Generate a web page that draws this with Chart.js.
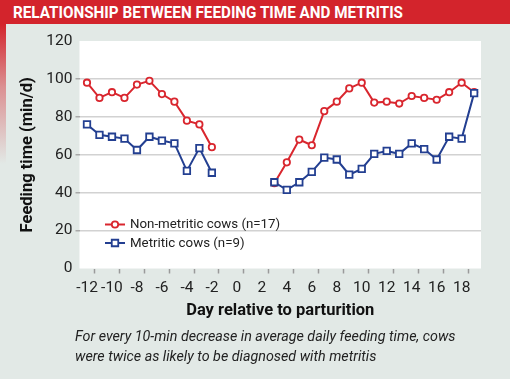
<!DOCTYPE html>
<html>
<head>
<meta charset="utf-8">
<script src="https://cdn.jsdelivr.net/npm/chart.js@4/dist/chart.umd.min.js"></script>
<style>
  html, body { margin: 0; padding: 0; }
  body { width: 510px; height: 379px; background: #e2e9e6; position: relative; overflow: hidden; }
  #bar { position: absolute; left: 0; top: 0; width: 510px; height: 24px; background: #d3242c; }
  #bar span { position: absolute; left: 13px; top: 0; line-height: 25px; color: #fff; font-family: Roboto, sans-serif; font-weight: bold; font-size: 17px; white-space: nowrap; transform-origin: 0 50%; }
  #stripe { position: absolute; left: 0; top: 24px; width: 6px; height: 140px; background: linear-gradient(to bottom, #d3242c 0%, rgba(211,36,44,0.45) 45%, rgba(211,36,44,0) 100%); }
  #note { position: absolute; left: 75px; top: 327px; font-family: Roboto, sans-serif; font-style: italic; font-size: 14.3px; line-height: 19.5px; color: #222; white-space: nowrap; }
  #c { position: absolute; left: 0; top: 0; }
</style>
</head>
<body>
<div id="bar"><span id="barText">RELATIONSHIP BETWEEN FEEDING TIME AND METRITIS</span></div>
<div id="stripe"></div>
<canvas id="c" width="510" height="379"></canvas>
<div id="note">For every 10-min decrease in average daily feeding time, cows<br>were twice as likely to be diagnosed with metritis</div>
<script>
// Day relative to parturition (-12 .. 19)
const days = [-12,-11,-10,-9,-8,-7,-6,-5,-4,-3,-2,-1,0,1,2,3,4,5,6,7,8,9,10,11,12,13,14,15,16,17,18,19];
// Feeding time (min/d)
const nonMetritic = [98,90,93,90,97,99,92,88,78,76,64, null,null,null,null,
  45,56,68,65,83,88,95,98,87.5,88,87,91,90,89,93,98,93];
const metritic = [76,70.5,69.5,68.5,62.5,69.5,67.5,66,51.5,63.5,50.5, null,null,null,null,
  45.5,41.5,45.5,51,58.5,57.5,49.5,52.5,60.5,62,60.5,66,63,57.5,69.5,68.5,92.5];
const xTicks = [-12,-10,-8,-6,-4,-2,0,2,4,6,8,10,12,14,16,18];
const yTicks = [0,20,40,60,80,100,120];
const seriesLabels = ['Non-metritic cows (n=17)', 'Metritic cows (n=9)'];

const RED = '#d9262e', BLUE = '#233f91';

// condense the header text to the reference width
(function () {
  const t = document.getElementById('barText');
  const w = t.getBoundingClientRect().width;
  if (w > 0) t.style.transform = 'scaleX(' + (390 / w) + ')';
})();

const whiteArea = {
  id: 'whiteArea',
  beforeDraw(chart) {
    const {ctx, chartArea: a} = chart;
    ctx.save(); ctx.fillStyle = '#fff';
    ctx.fillRect(a.left, a.top, a.right - a.left, a.bottom - a.top);
    ctx.restore();
  },
  afterDraw(chart) {
    const {ctx, chartArea: a} = chart;
    const xs = chart.scales.x;
    ctx.save(); ctx.strokeStyle = '#9a9a9a'; ctx.lineWidth = 1.5;
    xTicks.forEach(v => {
      const px = Math.round(xs.getPixelForValue(v + 0.53)) + 0.5;
      ctx.beginPath(); ctx.moveTo(px, a.bottom + 0.5); ctx.lineTo(px, a.bottom + 5); ctx.stroke();
    });
    ctx.restore();
  }
};

const legendPlugin = {
  id: 'lineLegend',
  afterDatasetsDraw(chart) {
    const {ctx, chartArea: a} = chart;
    ctx.save();
    chart.data.datasets.forEach((ds, i) => {
      const cx = a.left + 35.5, cy = a.bottom - 44 + i * 18.5;
      ctx.strokeStyle = ds.borderColor; ctx.lineWidth = 2;
      ctx.beginPath(); ctx.moveTo(cx - 10, cy); ctx.lineTo(cx + 10, cy); ctx.stroke();
      ctx.fillStyle = '#fff'; ctx.lineWidth = 1.8;
      ctx.beginPath();
      if (ds.pointStyle === 'rect') {
        const s = ds.pointRadius * Math.SQRT1_2;
        ctx.rect(cx - s, cy - s, 2 * s, 2 * s);
      } else {
        ctx.arc(cx, cy, ds.pointRadius, 0, Math.PI * 2);
      }
      ctx.fill(); ctx.stroke();
      ctx.fillStyle = '#222'; ctx.font = '13.3px Roboto'; ctx.textBaseline = 'middle'; ctx.textAlign = 'left';
      ctx.fillText(ds.label, cx + 15, cy + 0.5);
    });
    ctx.restore();
  }
};

new Chart(document.getElementById('c'), {
  type: 'line',
  data: {
    labels: days,
    datasets: [
      { label: seriesLabels[0], data: days.map((d, i) => ({x: d, y: nonMetritic[i]})),
        borderColor: RED, backgroundColor: '#fff', borderWidth: 2, pointStyle: 'circle',
        pointRadius: 3.2, pointBorderWidth: 1.8, pointBackgroundColor: '#fff', pointBorderColor: RED,
        spanGaps: false, tension: 0, order: 1 },
      { label: seriesLabels[1], data: days.map((d, i) => ({x: d, y: metritic[i]})),
        borderColor: BLUE, backgroundColor: '#fff', borderWidth: 2, pointStyle: 'rect',
        pointRadius: 4.6, pointBorderWidth: 1.8, pointBackgroundColor: '#fff', pointBorderColor: BLUE,
        spanGaps: false, tension: 0, order: 0 }
    ]
  },
  options: {
    responsive: false, animation: false, devicePixelRatio: 1,
    layout: { padding: { left: 0, top: 41, right: 29, bottom: 50.5 } },
    plugins: { legend: { display: false }, tooltip: { enabled: false } },
    scales: {
      x: {
        type: 'linear', min: -12.6, max: 19.55,
        afterBuildTicks: s => { s.ticks = xTicks.map(v => ({value: v})); },
        afterFit: s => { s.height = 60; },
        grid: { display: false, drawTicks: false },
        border: { display: false },
        ticks: { color: '#222', font: { family: 'Roboto', size: 15.5 }, padding: 10.5, maxRotation: 0, autoSkip: false },
        title: { display: true, text: 'Day relative to parturition', color: '#111',
          font: { family: 'Roboto', weight: 'bold', size: 16.5 }, padding: { top: 0, bottom: 7.6 } }
      },
      y: {
        min: 0, max: 120,
        afterBuildTicks: s => { s.ticks = yTicks.map(v => ({value: v})); },
        afterFit: s => { s.width = 79.5; },
        grid: {
          color: c => (c.tick && (c.tick.value === 0 || c.tick.value === 120)) ? 'rgba(0,0,0,0)' : '#d2d2d2',
          tickColor: c => (c.tick && (c.tick.value === 0 || c.tick.value === 120)) ? 'rgba(0,0,0,0)' : '#a8a8a8',
          lineWidth: 1.5, tickLength: 4, drawTicks: true
        },
        border: { display: false },
        ticks: { color: '#222', font: { family: 'Roboto', size: 15.5 }, padding: 3 },
        title: { display: true, text: 'Feeding time (min/d)', color: '#111',
          font: { family: 'Roboto', weight: 'bold', size: 16.5 }, padding: { top: 17.6, bottom: 0 } }
      }
    }
  },
  plugins: [whiteArea, legendPlugin]
});
</script>
</body>
</html>
